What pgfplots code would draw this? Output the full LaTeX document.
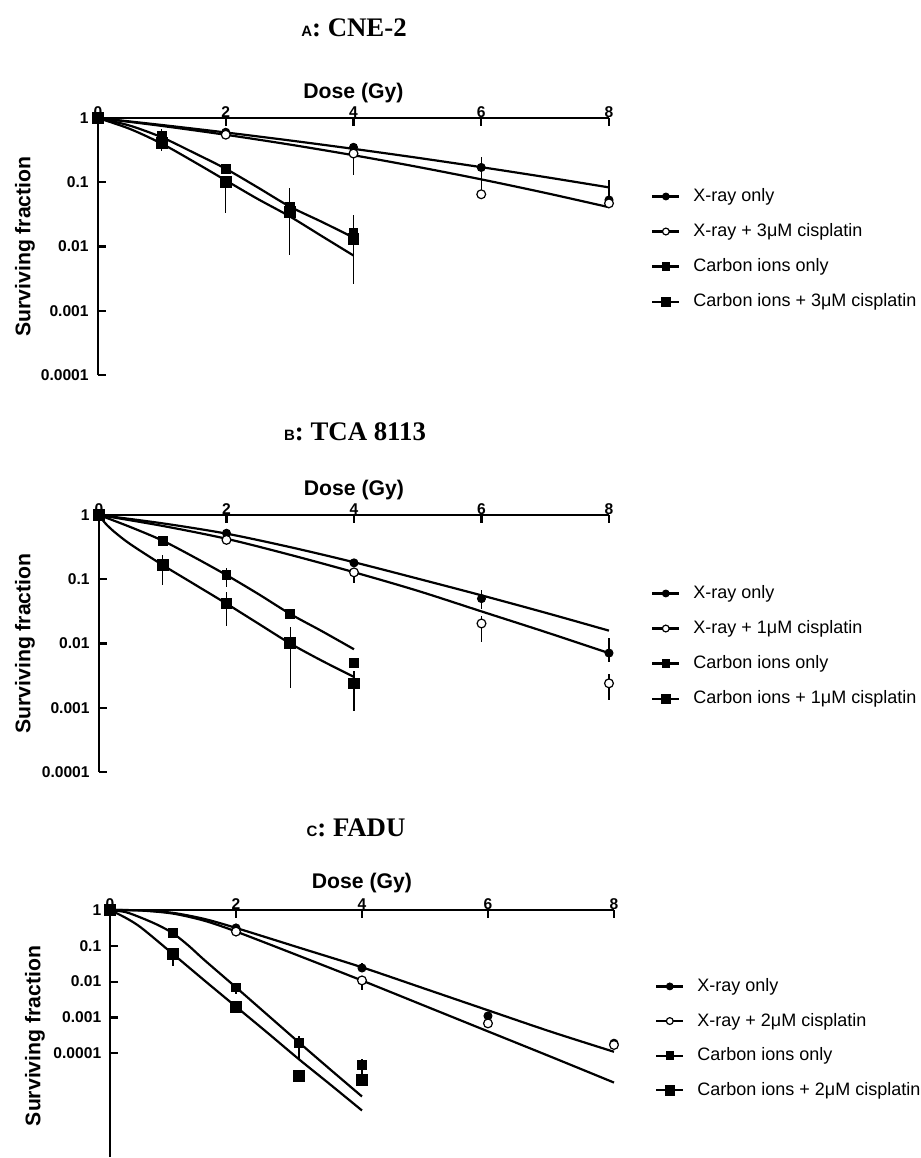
\documentclass[border=0pt]{standalone}
\usepackage{fontspec}
\setmainfont{Liberation Serif}
\setsansfont{Liberation Sans}
\usepackage{pgfplots}
\pgfplotsset{compat=1.18}

\pgfplotsset{
  fitline/.style={black, line width=1.1pt, no marks, smooth, forget plot},
  datpts/.style={black, only marks, forget plot,
    error bars/y dir=both, error bars/y explicit, error bars/error mark=none,
    error bars/error bar style={line width=0.6pt, black}},
  mkx/.style={mark=*, mark size=2pt, mark options={fill=black, line width=0.5pt}},
  mkxc/.style={mark=*, mark size=2.2pt, mark options={fill=white, line width=0.6pt}},
  mkc/.style={mark=square*, mark size=2.2pt, mark options={fill=black, line width=0.4pt}},
  mkcc/.style={mark=square*, mark size=2.7pt, mark options={fill=black, line width=0.4pt}},
}

\newcommand{\paneltitle}[2]{{\sffamily\bfseries\fontsize{7.5}{8}\selectfont #1}{\rmfamily\bfseries\fontsize{13.4}{15}\selectfont : #2}}

\begin{document}
\begin{tikzpicture}
\useasboundingbox (0pt,0pt) rectangle (460.5pt,-579pt);

\node[anchor=base] at (177pt,-18pt) {\paneltitle{A}{CNE-2}};
\node[anchor=base] at (177.5pt,-220pt) {\paneltitle{B}{TCA 8113}};
\node[anchor=base] at (178pt,-418pt) {\paneltitle{C}{FADU}};

% ---------------- A: CNE-2
\begin{axis}[
    scale only axis,
    at={(49pt,-59pt)}, anchor=north west,
    width=255.5pt, height=128.5pt,
    xmin=0, xmax=8,
    ymode=log, ymin=1e-4, ymax=1,
    axis x line=top, axis y line=left,
    axis line style={-, line width=1.2pt},
    tick align=inside,
    major tick length=3.8pt,
    tick style={line width=1.1pt, black},
    xtick={0,2,4,6,8}, xticklabels={0,2,4,6,8},
    ytick={1,0.1,0.01,0.001,0.0001}, yticklabels={1,0.1,0.01,0.001,0.0001},
    yminorticks=false,
    tick label style={font=\sffamily\bfseries\fontsize{7.8}{8}\selectfont},
    xticklabel style={inner sep=0pt, anchor=south},
    yticklabel style={inner sep=0pt, anchor=east, xshift=-4.5pt},
    xlabel={Dose (Gy)}, ylabel={Surviving fraction},
    label style={font=\sffamily\bfseries\fontsize{10.6}{12}\selectfont},
    xlabel style={at={(axis description cs:0.5,1.097)}, anchor=center},
    ylabel style={at={(axis description cs:-0.143,0.5)}, anchor=center},
    clip=false,
    legend cell align=left,
    legend image code/.code={\draw[mark repeat=2,mark phase=2,#1] plot coordinates {(0pt,0pt) (6.75pt,0pt) (13.5pt,0pt)};},
    legend style={draw=none, fill=none, inner sep=0pt, column sep=4.5pt,
      at={(axis description cs:1.082,0.743)}, anchor=north west,
      font=\sffamily\fontsize{9}{10}\selectfont, row sep=5.5pt},
]
\addplot[fitline] coordinates {(0,1)(1,0.7785)(2,0.5957)(3,0.4480)(4,0.3311)(5,0.2406)(6,0.1718)(7,0.1206)(8,0.0832)};
\addplot[fitline] coordinates {(0,1)(1,0.7530)(2,0.5485)(3,0.3866)(4,0.2635)(5,0.1738)(6,0.1109)(7,0.0684)(8,0.0409)};
\addplot[fitline] coordinates {(0,1)(0.5,0.76)(1,0.5)(1.5,0.288)(2,0.162)(2.5,0.0832)(3,0.042)(3.5,0.0243)(4,0.0138)};
\addplot[fitline] coordinates {(0,1)(0.5,0.676)(1,0.398)(1.5,0.209)(2,0.107)(2.5,0.055)(3,0.0295)(3.5,0.0146)(4,0.00724)};
\addplot[datpts, mkx] coordinates {(0,1) (2,0.6) +- (0,0.05) (4,0.35) +- (0,0.04)
  (6,0.17) += (0,0.08) -= (0,0.1) (8,0.053) += (0,0.055) -= (0,0.003)};
\addplot[datpts, mkxc] coordinates {(0,1) (2,0.55) +- (0,0.04) (4,0.28) += (0,0.03) -= (0,0.15)
  (6,0.065) +- (0,0.005) (8,0.047) +- (0,0.004)};
\addplot[datpts, mkc] coordinates {(0,1) (1,0.52) += (0,0.15) -= (0,0.1) (2,0.16) +- (0,0.02)
  (3,0.041) +- (0,0.005) (4,0.0166) +- (0,0.002)};
\addplot[datpts, mkcc] coordinates {(0,1) (1,0.41) += (0,0.2) -= (0,0.1) (2,0.10) += (0,0.01) -= (0,0.067)
  (3,0.035) += (0,0.046) -= (0,0.0275) (4,0.0133) += (0,0.018) -= (0,0.0107)};
\addlegendimage{black, line width=1.1pt, mark=*, mark size=1.7pt, mark options={fill=black, line width=0.5pt}}
\addlegendentry{X-ray only}
\addlegendimage{black, line width=1.1pt, mark=*, mark size=1.7pt, mark options={fill=white, line width=0.6pt}}
\addlegendentry{X-ray + 3μM cisplatin}
\addlegendimage{black, line width=1.1pt, mark=square*, mark size=1.9pt, mark options={fill=black, line width=0.4pt}}
\addlegendentry{Carbon ions only}
\addlegendimage{black, line width=1.1pt, mark=square*, mark size=2.3pt, mark options={fill=black, line width=0.4pt}}
\addlegendentry{Carbon ions + 3μM cisplatin}
\end{axis}

% ---------------- B: TCA 8113
\begin{axis}[
    scale only axis,
    at={(49.5pt,-257.5pt)}, anchor=north west,
    width=255pt, height=128.5pt,
    xmin=0, xmax=8,
    ymode=log, ymin=1e-4, ymax=1,
    axis x line=top, axis y line=left,
    axis line style={-, line width=1.2pt},
    tick align=inside,
    major tick length=3.8pt,
    tick style={line width=1.1pt, black},
    xtick={0,2,4,6,8}, xticklabels={0,2,4,6,8},
    ytick={1,0.1,0.01,0.001,0.0001}, yticklabels={1,0.1,0.01,0.001,0.0001},
    yminorticks=false,
    tick label style={font=\sffamily\bfseries\fontsize{7.8}{8}\selectfont},
    xticklabel style={inner sep=0pt, anchor=south},
    yticklabel style={inner sep=0pt, anchor=east, xshift=-4.5pt},
    xlabel={Dose (Gy)}, ylabel={Surviving fraction},
    label style={font=\sffamily\bfseries\fontsize{10.6}{12}\selectfont},
    xlabel style={at={(axis description cs:0.5,1.097)}, anchor=center},
    ylabel style={at={(axis description cs:-0.145,0.5)}, anchor=center},
    clip=false,
    legend cell align=left,
    legend image code/.code={\draw[mark repeat=2,mark phase=2,#1] plot coordinates {(0pt,0pt) (6.75pt,0pt) (13.5pt,0pt)};},
    legend style={draw=none, fill=none, inner sep=0pt, column sep=4.5pt,
      at={(axis description cs:1.082,0.743)}, anchor=north west,
      font=\sffamily\fontsize{9}{10}\selectfont, row sep=5.5pt},
]
\addplot[fitline] coordinates {(0,1)(1,0.7413)(2,0.5129)(3,0.3162)(4,0.1841)(5,0.1023)(6,0.0562)(7,0.0302)(8,0.01585)};
\addplot[fitline] coordinates {(0,1)(1,0.676)(2,0.4266)(3,0.2399)(4,0.1288)(5,0.0661)(6,0.0316)(7,0.01514)(8,0.00708)};
\addplot[fitline] coordinates {(0,1)(0.5,0.6457)(1,0.398)(1.5,0.2188)(2,0.1161)(2.5,0.0589)(3,0.02884)(3.5,0.0155)(4,0.00813)};
\addplot[fitline] coordinates {(0,1)(0.1,0.741)(0.25,0.537)(0.5,0.347)(1,0.166)(1.5,0.0832)(2,0.0417)(2.5,0.0204)(3,0.01)(3.5,0.00537)(4,0.00302)};
\addplot[datpts, mkx] coordinates {(0,1) (2,0.52) +- (0,0.03) (4,0.18) +- (0,0.02)
  (6,0.05) += (0,0.017) -= (0,0.015) (8,0.0071) += (0,0.0053) -= (0,0.002)};
\addplot[datpts, mkxc] coordinates {(0,1) (2,0.41) +- (0,0.02) (4,0.128) += (0,0.01) -= (0,0.04)
  (6,0.0205) += (0,0.006) -= (0,0.0101) (8,0.0024) += (0,0.001) -= (0,0.0011)};
\addplot[datpts, mkc] coordinates {(0,1) (1,0.4) +- (0,0.03) (2,0.116) += (0,0.034) -= (0,0.04)
  (3,0.0286) +- (0,0.003) (4,0.005) +- (0,0.0005)};
\addplot[datpts, mkcc] coordinates {(0,1) (1,0.166) += (0,0.074) -= (0,0.086) (2,0.042) += (0,0.021) -= (0,0.023)
  (3,0.0101) += (0,0.0079) -= (0,0.0081) (4,0.0024) += (0,0.0014) -= (0,0.0015)};
\addlegendimage{black, line width=1.1pt, mark=*, mark size=1.7pt, mark options={fill=black, line width=0.5pt}}
\addlegendentry{X-ray only}
\addlegendimage{black, line width=1.1pt, mark=*, mark size=1.7pt, mark options={fill=white, line width=0.6pt}}
\addlegendentry{X-ray + 1μM cisplatin}
\addlegendimage{black, line width=1.1pt, mark=square*, mark size=1.9pt, mark options={fill=black, line width=0.4pt}}
\addlegendentry{Carbon ions only}
\addlegendimage{black, line width=1.1pt, mark=square*, mark size=2.3pt, mark options={fill=black, line width=0.4pt}}
\addlegendentry{Carbon ions + 1μM cisplatin}
\end{axis}

% ---------------- C: FADU
\begin{axis}[
    scale only axis,
    at={(55pt,-455pt)}, anchor=north west,
    width=252pt, height=123.5pt,
    xmin=0, xmax=8,
    ymode=log, ymin=1.2589e-7, ymax=1,
    axis x line=top, axis y line=left,
    axis line style={-, line width=1.2pt},
    tick align=inside,
    major tick length=3.8pt,
    tick style={line width=1.1pt, black},
    xtick={0,2,4,6,8}, xticklabels={0,2,4,6,8},
    ytick={1,0.1,0.01,0.001,0.0001}, yticklabels={1,0.1,0.01,0.001,0.0001},
    yminorticks=false,
    tick label style={font=\sffamily\bfseries\fontsize{7.8}{8}\selectfont},
    xticklabel style={inner sep=0pt, anchor=south},
    yticklabel style={inner sep=0pt, anchor=east, xshift=-4.2pt},
    xlabel={Dose (Gy)}, ylabel={Surviving fraction},
    label style={font=\sffamily\bfseries\fontsize{10.6}{12}\selectfont},
    xlabel style={at={(axis description cs:0.5,1.109)}, anchor=center},
    ylabel style={at={(axis description cs:-0.149,0.49)}, anchor=center},
    clip=false,
    legend cell align=left,
    legend image code/.code={\draw[mark repeat=2,mark phase=2,#1] plot coordinates {(0pt,0pt) (6.75pt,0pt) (13.5pt,0pt)};},
    legend style={draw=none, fill=none, inner sep=0pt, column sep=4.5pt,
      at={(axis description cs:1.081,0.741)}, anchor=north west,
      font=\sffamily\fontsize{9}{10}\selectfont, row sep=5.3pt},
]
\addplot[fitline] coordinates {(0,1)(0.5,0.977)(1,0.832)(1.5,0.562)(2,0.316)(3,0.0891)(4,0.0251)(5,0.00631)(6,0.00158)(7,0.000398)(8,0.0001096)};
\addplot[fitline] coordinates {(0,1)(0.5,0.966)(1,0.794)(1.5,0.501)(2,0.251)(3,0.0525)(4,0.01072)(5,0.00209)(6,0.000407)(7,7.94e-5)(8,1.514e-5)};
\addplot[fitline] coordinates {(0,1)(0.25,0.871)(0.5,0.603)(0.75,0.389)(1,0.2239)(1.25,0.1)(1.5,0.0398)(2,0.00692)(2.5,0.001175)(3,0.0001995)(3.5,3.47e-5)(4,6.17e-6)};
\addplot[fitline] coordinates {(0,1)(0.25,0.603)(0.5,0.316)(1,0.0589)(1.5,0.01072)(2,0.001995)(2.5,0.000372)(3,6.76e-5)(3.5,1.318e-5)(4,2.51e-6)};
\addplot[datpts, mkx] coordinates {(0,1) (2,0.316) +- (0,0.03) (4,0.024) += (0,0.01) -= (0,0.006)
  (6,0.0011) += (0,0.0003) -= (0,0.0002) (8,0.00019) +- (0,0.00003)};
\addplot[datpts, mkxc] coordinates {(0,1) (2,0.25) (4,0.0108) += (0,0.002) -= (0,0.005)
  (6,0.00068) (8,0.00017)};
\addplot[datpts, mkc] coordinates {(0,1) (1,0.225) (2,0.0069) += (0,0.001) -= (0,0.0025)
  (3,0.00019) += (0,0.00011) -= (0,0.00012) (4,4.6e-5) += (0,2.2e-5) -= (0,2e-5)};
\addplot[datpts, mkcc] coordinates {(0,1) (1,0.059) += (0,0.029) -= (0,0.032) (2,0.002)
  (3,2.3e-5) (4,1.8e-5)};
\addlegendimage{black, line width=1.1pt, mark=*, mark size=1.7pt, mark options={fill=black, line width=0.5pt}}
\addlegendentry{X-ray only}
\addlegendimage{black, line width=1.1pt, mark=*, mark size=1.7pt, mark options={fill=white, line width=0.6pt}}
\addlegendentry{X-ray + 2μM cisplatin}
\addlegendimage{black, line width=1.1pt, mark=square*, mark size=1.9pt, mark options={fill=black, line width=0.4pt}}
\addlegendentry{Carbon ions only}
\addlegendimage{black, line width=1.1pt, mark=square*, mark size=2.3pt, mark options={fill=black, line width=0.4pt}}
\addlegendentry{Carbon ions + 2μM cisplatin}
\end{axis}
\end{tikzpicture}
\end{document}
